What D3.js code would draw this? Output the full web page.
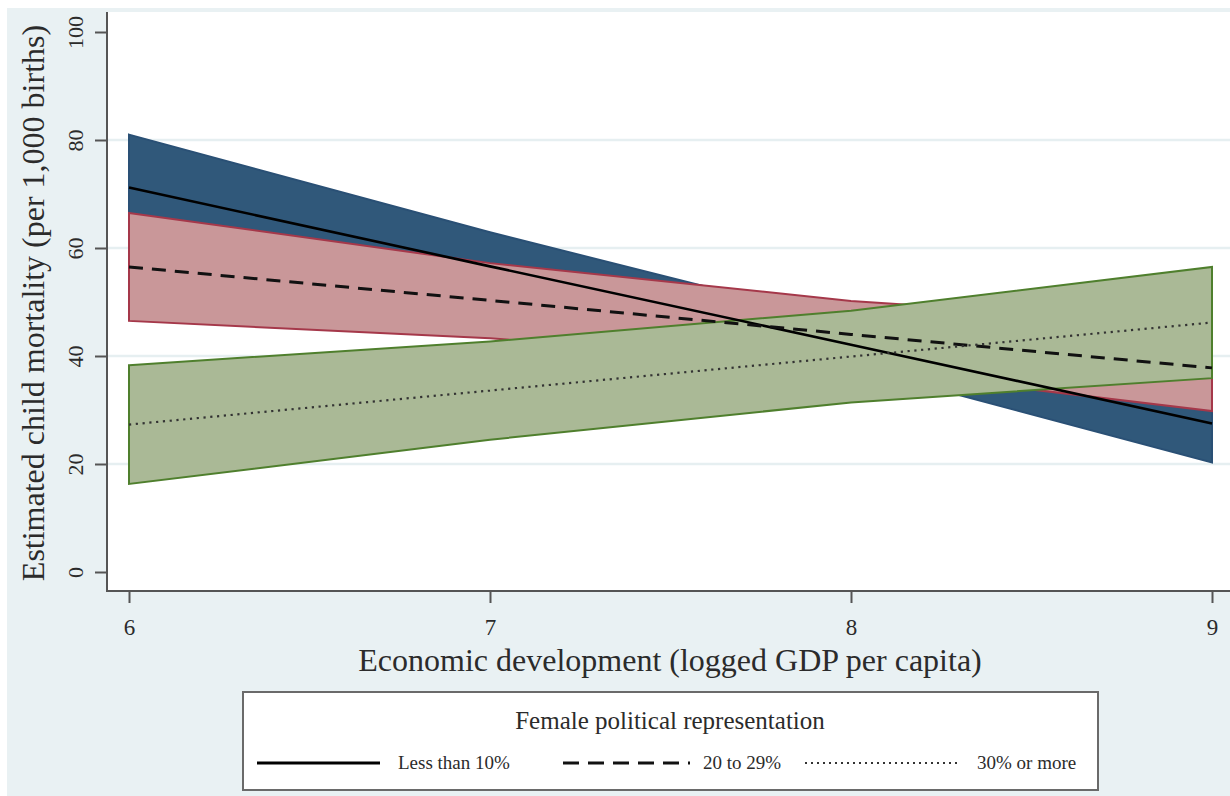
<!DOCTYPE html>
<html><head><meta charset="utf-8">
<script src="https://cdn.jsdelivr.net/npm/d3@7"></script>
<style>
html,body{margin:0;padding:0;background:#fff;}
svg{display:block;}
text{font-family:"Liberation Serif","DejaVu Serif",serif;fill:#2b2b2b;}
</style></head>
<body>
<svg id="chart" width="1230" height="796"></svg>
<script>
// ---- data ----
const gdpValues = [6, 7, 8, 9];
const xTicks = [6, 7, 8, 9];
const yTicks = [0, 20, 40, 60, 80, 100];
const seriesNames = ["Less than 10%", "20 to 29%", "30% or more"];
const lessThan10 = [71.2, 56.6, 42.1, 27.5];
const lessThan10Lo = [61.4, 50.4, 38.1, 20.3];
const lessThan10Hi = [81.0, 62.9, 46.1, 34.7];
const from20to29 = [56.5, 50.3, 44.0, 37.8];
const from20to29Lo = [46.5, 43.3, 37.8, 29.8];
const from20to29Hi = [66.5, 57.2, 50.2, 45.8];
const over30 = [27.3, 33.6, 39.9, 46.2];
const over30Lo = [16.3, 24.5, 31.4, 35.9];
const over30Hi = [38.3, 42.7, 48.4, 56.5];
const xTitle = "Economic development (logged GDP per capita)";
const yTitle = "Estimated child mortality (per 1,000 births)";
const legendTitle = "Female political representation";

const svg = d3.select("#chart");
const bg = "#e9f1f3";

// outer background
svg.append("rect").attr("x", 7).attr("y", 8).attr("width", 1230).attr("height", 796).attr("fill", bg);

const plotLeft = 107, plotTop = 12, plotBottom = 591, plotRight = 1240;
svg.append("rect").attr("x", plotLeft).attr("y", plotTop)
  .attr("width", plotRight - plotLeft).attr("height", plotBottom - plotTop).attr("fill", "#fff");

const x = d3.scaleLinear().domain([6, 9]).range([129, 1212]);
const y = d3.scaleLinear().domain([0, 100]).range([572, 32]);

// gridlines
svg.append("g").selectAll("line").data(yTicks.filter(v => v > 0 && v < 100)).join("line")
  .attr("x1", plotLeft).attr("x2", plotRight)
  .attr("y1", d => y(d)).attr("y2", d => y(d))
  .attr("stroke", "#e6eff1").attr("stroke-width", 2.5);

const series = [
  {name: seriesNames[0], mid: lessThan10, lo: lessThan10Lo, hi: lessThan10Hi, fill: "#30587a", stroke: "#2a5075", dash: null, lw: 2.6, lc: "#000"},
  {name: seriesNames[1], mid: from20to29, lo: from20to29Lo, hi: from20to29Hi, fill: "#c99799", stroke: "#a5384a", dash: "14,9", lw: 3, lc: "#111"},
  {name: seriesNames[2], mid: over30, lo: over30Lo, hi: over30Hi, fill: "#aab996", stroke: "#4f7f2d", dash: "2.2,4.6", lw: 2.2, lc: "#333"}
];

const area = d3.area().x(d => x(d.x)).y0(d => y(d.lo)).y1(d => y(d.hi));
const line = d3.line().x(d => x(d.x)).y(d => y(d.v));

const bands = svg.append("g");
series.forEach(s => {
  const pts = gdpValues.map((g, i) => ({x: g, lo: s.lo[i], hi: s.hi[i]}));
  bands.append("path").datum(pts).attr("d", d => area(d) + "Z")
    .attr("fill", s.fill).attr("stroke", s.stroke).attr("stroke-width", 2).attr("stroke-linejoin", "miter");
});
const lines = svg.append("g");
series.forEach(s => {
  const pts = gdpValues.map((g, i) => ({x: g, v: s.mid[i]}));
  lines.append("path").datum(pts).attr("d", line).attr("fill", "none")
    .attr("stroke", s.lc).attr("stroke-width", s.lw)
    .attr("stroke-dasharray", s.dash);
});

// axes
const axisColor = "#555";
const yAxis = svg.append("g").attr("transform", `translate(${plotLeft},0)`)
  .call(d3.axisLeft(y).tickValues(yTicks).tickSize(12).tickFormat(d3.format("d")));
yAxis.select(".domain").remove();
yAxis.selectAll(".tick line").attr("stroke", axisColor).attr("stroke-width", 2);
yAxis.selectAll(".tick text").attr("font-size", 22).attr("fill", "#3a3a3a")
  .attr("font-family", "Liberation Serif")
  .attr("x", 0).attr("dy", 0).attr("text-anchor", "middle")
  .attr("transform", "translate(-24,0) rotate(-90)");
svg.append("line").attr("x1", plotLeft).attr("x2", plotLeft).attr("y1", plotTop).attr("y2", plotBottom + 1)
  .attr("stroke", axisColor).attr("stroke-width", 2);

const xAxis = svg.append("g").attr("transform", `translate(0,${plotBottom})`)
  .call(d3.axisBottom(x).tickValues(xTicks).tickSize(12).tickFormat(d3.format("d")));
xAxis.select(".domain").remove();
xAxis.selectAll(".tick line").attr("stroke", axisColor).attr("stroke-width", 2);
xAxis.selectAll(".tick text").attr("font-size", 23).attr("fill", "#3a3a3a")
  .attr("font-family", "Liberation Serif").attr("y", 44).attr("dy", 0);
svg.append("line").attr("x1", plotLeft - 1).attr("x2", plotRight).attr("y1", plotBottom).attr("y2", plotBottom)
  .attr("stroke", axisColor).attr("stroke-width", 2);

// titles
svg.append("text").attr("x", 670).attr("y", 671).attr("text-anchor", "middle")
  .attr("font-size", 32).text(xTitle);
svg.append("text").attr("transform", "translate(44,303) rotate(-90)").attr("text-anchor", "middle")
  .attr("font-size", 32).text(yTitle);

// legend
const lg = svg.append("g");
lg.append("rect").attr("x", 243).attr("y", 692).attr("width", 855).attr("height", 98)
  .attr("fill", "#fff").attr("stroke", "#6a6a6a").attr("stroke-width", 2);
lg.append("text").attr("x", 670).attr("y", 729).attr("text-anchor", "middle")
  .attr("font-size", 25).text(legendTitle);
const keyX = [[257, 380, 398], [563, 690, 703], [805, 958, 977]];
series.forEach((s, i) => {
  const [a, b, t] = keyX[i];
  lg.append("line").attr("x1", a).attr("x2", b).attr("y1", 763).attr("y2", 763)
    .attr("stroke", s.lc).attr("stroke-width", i === 2 ? 2.2 : 3.2)
    .attr("stroke-dasharray", i === 1 ? "16,9" : (i === 2 ? "2,4" : null));
  lg.append("text").attr("x", t).attr("y", 769).attr("font-size", 19).text(s.name);
});
</script>
</body></html>
